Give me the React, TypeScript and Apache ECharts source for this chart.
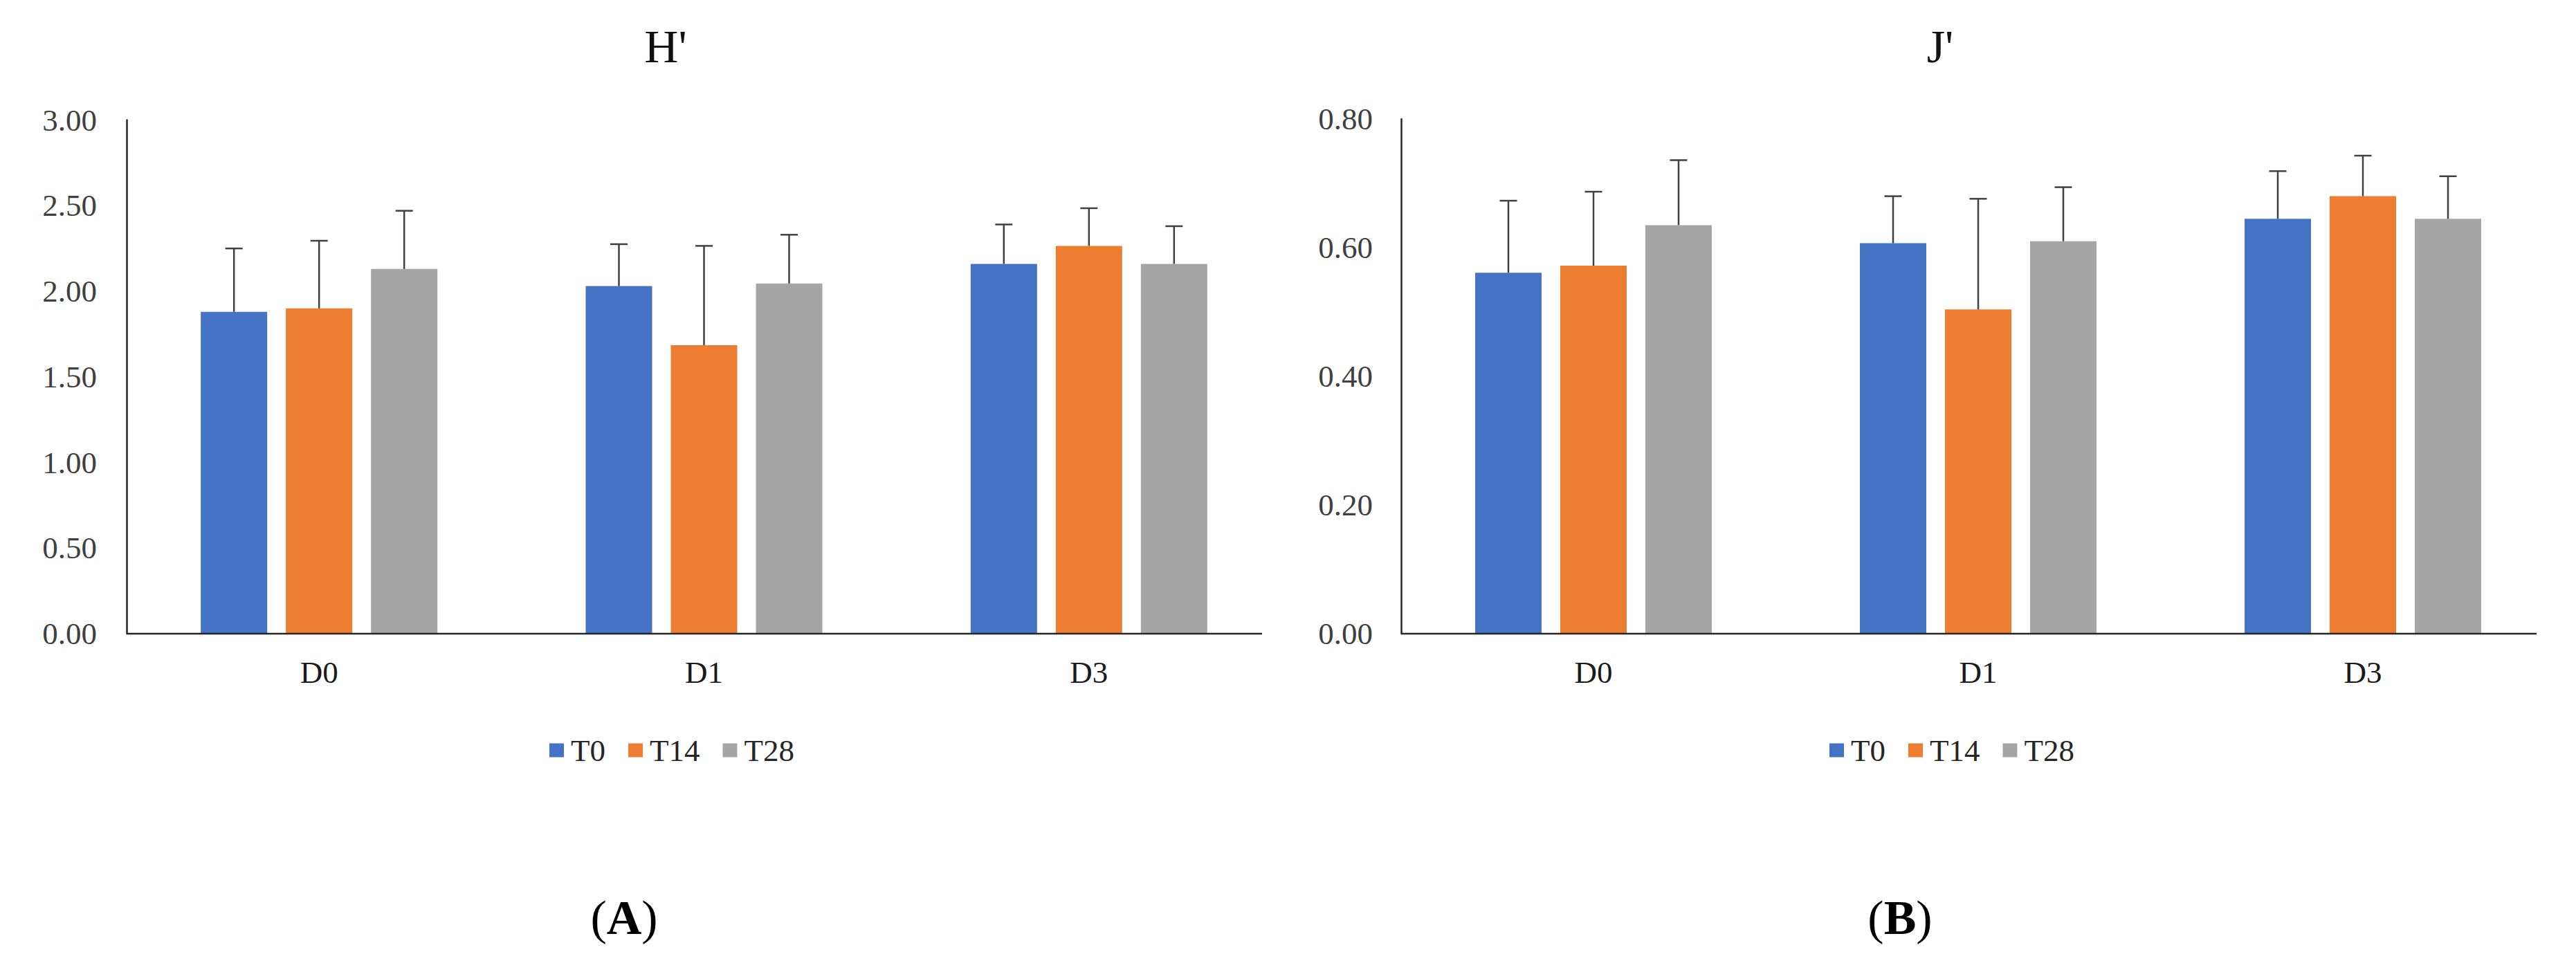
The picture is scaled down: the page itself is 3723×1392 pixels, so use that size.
import React, { useEffect, useRef } from "react";
import * as echarts from "echarts";

const categories = ["D0", "D1", "D3"];
const seriesNames = ["T0", "T14", "T28"];
const colors = ["#4472C4", "#ED7D31", "#A5A5A5"];

// H' means and standard deviations (per series, per category)
const hMeans = [
  [1.88, 2.03, 2.16],
  [1.9, 1.685, 2.265],
  [2.13, 2.045, 2.16],
];
const hSd = [
  [0.37, 0.245, 0.23],
  [0.395, 0.58, 0.22],
  [0.34, 0.285, 0.22],
];
// J' means and standard deviations
const jMeans = [
  [0.561, 0.607, 0.645],
  [0.572, 0.504, 0.68],
  [0.635, 0.61, 0.645],
];
const jSd = [
  [0.112, 0.073, 0.074],
  [0.115, 0.172, 0.063],
  [0.101, 0.084, 0.066],
];
const hTicks = { min: 0, max: 3, interval: 0.5 };
const jTicks = { min: 0, max: 0.8, interval: 0.2 };

const FONT = '"Liberation Serif", "Times New Roman", serif';
const BAR_W = 96;
const BAR_GAP = 27;
const ERR_COLOR = "#404040";
const AXIS_COLOR = "#262626";

function errRender(j: number) {
  return (params: any, api: any) => {
    const i = api.value(0);
    const v = api.value(1);
    const e = api.value(2);
    const base = api.coord([i, v]);
    const top = api.coord([i, v + e]);
    const x = base[0] + (j - 1) * (BAR_W + BAR_GAP);
    const style = { stroke: ERR_COLOR, lineWidth: 2.5 };
    return {
      type: "group",
      children: [
        { type: "line", shape: { x1: x, y1: base[1], x2: x, y2: top[1] }, style },
        { type: "line", shape: { x1: x - 12.5, y1: top[1], x2: x + 12.5, y2: top[1] }, style },
      ],
    };
  };
}

export default function App() {
  const ref = useRef<HTMLDivElement>(null);
  useEffect(() => {
    if (!ref.current) return;
    const chart = echarts.init(ref.current, undefined, { renderer: "svg" });

    const grids = [
      { left: 183, top: 173.5, width: 1669, height: 742.5 },
      { left: 2025, top: 172, width: 1668, height: 744 },
    ];

    const mkX = (gi: number) => ({
      type: "category",
      gridIndex: gi,
      data: categories,
      axisLine: { show: false },
      axisTick: { show: false },
      axisLabel: { fontSize: 45, fontFamily: FONT, color: "#1a1a1a", margin: 33 },
    });
    const mkY = (gi: number, t: any) => ({
      type: "value",
      gridIndex: gi,
      min: t.min,
      max: t.max,
      interval: t.interval,
      splitLine: { show: false },
      axisTick: { show: false },
      axisLine: { show: true, lineStyle: { color: AXIS_COLOR, width: 2.5 } },
      axisLabel: {
        fontSize: 45,
        fontFamily: FONT,
        color: "#404040",
        margin: gi === 0 ? 43 : 41,
        formatter: (v: number) => v.toFixed(2),
      },
    });

    const series: any[] = [];
    const sets = [
      { means: hMeans, sd: hSd },
      { means: jMeans, sd: jSd },
    ];
    sets.forEach((s, gi) => {
      seriesNames.forEach((name, j) => {
        series.push({
          type: "bar",
          name,
          xAxisIndex: gi,
          yAxisIndex: gi,
          barWidth: BAR_W,
          barGap: (BAR_GAP / BAR_W) * 100 + "%",
          itemStyle: { color: colors[j] },
          data: s.means[j],
        });
      });
      seriesNames.forEach((name, j) => {
        series.push({
          type: "custom",
          name: "err_" + gi + "_" + name,
          xAxisIndex: gi,
          yAxisIndex: gi,
          z: 10,
          renderItem: errRender(j),
          encode: { x: 0, y: 1 },
          data: s.means[j].map((m, i) => [i, m, s.sd[j][i]]),
        });
      });
    });

    const legendCommon = {
      data: seriesNames,
      icon: "rect",
      itemWidth: 21,
      itemHeight: 20,
      itemGap: 33,
      orient: "horizontal",
      textStyle: { fontSize: 45, fontFamily: FONT, color: "#262626", padding: [0, 0, 0, 5] },
    };

    const labelText = (letter: string, x: number) => ({
      type: "text",
      x,
      y: 1326,
      style: {
        text: "{n|(}{b|" + letter + "}{n|)}",
        align: "center",
        verticalAlign: "middle",
        rich: {
          n: { fontSize: 70, fontFamily: FONT, fill: "#000" },
          b: { fontSize: 70, fontFamily: FONT, fontWeight: "bold", fill: "#000" },
        },
      },
    });
    const titleText = (t: string, x: number) => ({
      type: "text",
      x,
      y: 67,
      style: {
        text: t,
        fontSize: 68,
        fontFamily: FONT,
        fill: "#111",
        align: "center",
        verticalAlign: "middle",
      },
    });

    chart.setOption({
      animation: false,
      backgroundColor: "#ffffff",
      grid: grids,
      xAxis: [mkX(0), mkX(1)],
      yAxis: [mkY(0, hTicks), mkY(1, jTicks)],
      legend: [
        { ...legendCommon, left: 789, top: 1057 },
        { ...legendCommon, left: 2639, top: 1057 },
      ],
      series,
      graphic: [
        titleText("H'", 962),
        titleText("J'", 2804),
        labelText("A", 902),
        labelText("B", 2746),
        {
          type: "line",
          shape: { x1: 183, y1: 916, x2: 1824, y2: 916 },
          style: { stroke: AXIS_COLOR, lineWidth: 2.5 },
          z: 20,
        },
        {
          type: "line",
          shape: { x1: 2025, y1: 916, x2: 3666, y2: 916 },
          style: { stroke: AXIS_COLOR, lineWidth: 2.5 },
          z: 20,
        },
      ],
    });
    return () => chart.dispose();
  }, []);
  return (
    <div
      ref={ref}
      style={{ position: "absolute", left: 0, top: 0, width: 3723, height: 1392, background: "#fff" }}
    />
  );
}
